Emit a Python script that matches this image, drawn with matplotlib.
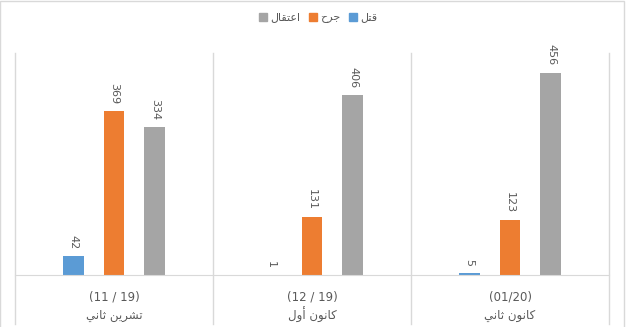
import matplotlib.pyplot as plt
from matplotlib.patches import Rectangle, Patch

# data
periods = ['(11 / 19)', '(12 / 19)', '(01/20)']
months = ['تشرين ثاني', 'كانون أول', 'كانون ثاني']
series_names = ['قتل', 'جرح', 'اعتقال']
killed = [42, 1, 5]
injured = [369, 131, 123]
arrested = [334, 406, 456]

colors = ['#5B9BD5', '#ED7D31', '#A5A5A5']

# matplotlib has no arabic shaping, so do a small one by hand
FORMS = {
    'ا': ('\uFE8D', '\uFE8E'), 'أ': ('\uFE83', '\uFE84'),
    'ر': ('\uFEAD', '\uFEAE'), 'و': ('\uFEED', '\uFEEE'),
    'ت': ('\uFE95', '\uFE96', '\uFE97', '\uFE98'),
    'ث': ('\uFE99', '\uFE9A', '\uFE9B', '\uFE9C'),
    'ج': ('\uFE9D', '\uFE9E', '\uFE9F', '\uFEA0'),
    'ح': ('\uFEA1', '\uFEA2', '\uFEA3', '\uFEA4'),
    'ش': ('\uFEB5', '\uFEB6', '\uFEB7', '\uFEB8'),
    'ع': ('\uFEC9', '\uFECA', '\uFECB', '\uFECC'),
    'ق': ('\uFED5', '\uFED6', '\uFED7', '\uFED8'),
    'ك': ('\uFED9', '\uFEDA', '\uFEDB', '\uFEDC'),
    'ل': ('\uFEDD', '\uFEDE', '\uFEDF', '\uFEE0'),
    'ن': ('\uFEE5', '\uFEE6', '\uFEE7', '\uFEE8'),
    'ي': ('\uFEF1', '\uFEF2', '\uFEF3', '\uFEF4'),
}


def shape(text):
    out = []
    for i, ch in enumerate(text):
        if ch not in FORMS:
            out.append(ch)
            continue
        prev = text[i-1] if i > 0 else ''
        nxt = text[i+1] if i < len(text)-1 else ''
        join_prev = prev in FORMS and len(FORMS[prev]) == 4
        join_next = len(FORMS[ch]) == 4 and nxt in FORMS
        f = FORMS[ch]
        if join_prev and join_next:
            out.append(f[3])
        elif join_prev:
            out.append(f[1])
        elif join_next:
            out.append(f[2])
        else:
            out.append(f[0])
    return ''.join(out)[::-1]


plt.rcParams['font.family'] = ['DejaVu Sans']

fig = plt.figure(figsize=(6.28, 3.27), dpi=100)
fig.patches.append(Rectangle((0.0005, -0.01), 0.993, 1.008, transform=fig.transFigure,
                             fill=False, edgecolor='#D9D9D9', lw=1))
ax = fig.add_axes([15/628, 52/327, 594/628, 222/327])

x = list(range(len(periods)))
offsets = [-0.207, 0, 0.207]
width = 0.106
for vals, off, c in zip([killed, injured, arrested], offsets, colors):
    bars = ax.bar([i + off for i in x], vals, width, color=c)
    for b, v in zip(bars, vals):
        ax.annotate(str(v), (b.get_x() + b.get_width()/2, v), xytext=(0, 5),
                    textcoords='offset points', ha='center', va='bottom',
                    rotation=-90, fontsize=8, color='#595959')

ax.set_xlim(-0.5, 2.5)
ax.set_ylim(0, 500)
ax.set_xticks([])
ax.set_yticks([])
for s in ['top', 'left', 'right']:
    ax.spines[s].set_visible(False)
ax.spines['bottom'].set_color('#D9D9D9')

# category separators (multi level axis)
tr = ax.get_xaxis_transform()
for xs in [-0.5, 0.5, 1.5, 2.5]:
    ax.plot([xs, xs], [1, -49/222], color='#D9D9D9', lw=1, transform=tr, clip_on=False)

for i in x:
    ax.text(i, -22/222, periods[i], transform=tr, ha='center', va='center',
            fontsize=8.5, color='#595959')
    ax.text(i, -40/222, shape(months[i]), transform=tr, ha='center', va='center',
            fontsize=8.5, color='#595959')

handles = [Patch(color=colors[2]), Patch(color=colors[1]), Patch(color=colors[0])]
labels = [shape(series_names[2]), shape(series_names[1]), shape(series_names[0])]
fig.legend(handles, labels, loc='center', bbox_to_anchor=(0.507, 1 - 18/327), ncol=3,
           frameon=False, fontsize=8, handlelength=0.7, handleheight=0.7,
           handletextpad=0.3, columnspacing=0.8, labelcolor='#595959')

fig.savefig('out.png', dpi=100)
